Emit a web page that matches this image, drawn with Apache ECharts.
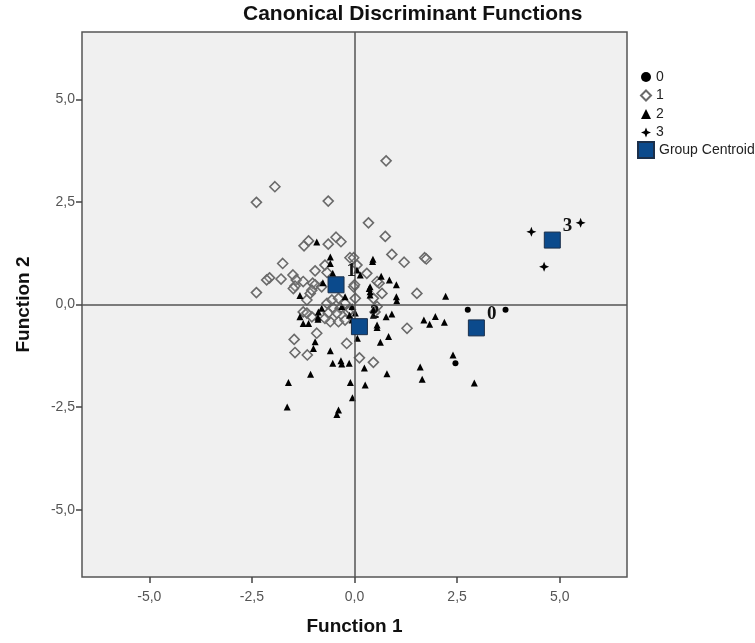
<!DOCTYPE html>
<html>
<head>
<meta charset="utf-8">
<title>Canonical Discriminant Functions</title>
<script src="https://cdn.jsdelivr.net/npm/echarts@6/dist/echarts.min.js"></script>
<style>
  html, body { margin: 0; padding: 0; background: #fff; }
  #main { width: 755px; height: 643px; }
</style>
</head>
<body>
<div id="main"></div>
<script>
// discriminant scores per group, [function 1, function 2]
var group0 = [[2.76, -0.13], [3.68, -0.13], [2.46, -1.43]]

var group1 = [
  [-2.39, 2.49], [-1.94, 2.87], [-0.64, 2.52], [0.34, 1.99], [0.77, 3.50], [0.75, 1.66],
  [0.91, 1.22], [1.21, 1.03], [1.71, 1.14], [1.75, 1.11], [1.52, 0.27], [0.60, 0.52],
  [0.67, 0.27], [0.46, 0.15], [0.30, 0.76], [0.06, 0.96],
  [-1.23, 1.43], [-1.12, 1.55], [-0.64, 1.47], [-0.45, 1.64], [-0.33, 1.53], [-0.11, 1.14],
  [-0.02, 1.14], [-1.75, 1.00], [-0.96, 0.82], [-0.72, 0.96], [-0.67, 0.78], [-2.07, 0.65],
  [-2.14, 0.60], [-1.79, 0.62], [-1.50, 0.72], [-1.42, 0.60], [-1.45, 0.45], [-1.25, 0.56],
  [-1.49, 0.39], [-2.39, 0.29], [-1.08, 0.27], [-1.16, 0.11], [-1.02, 0.52], [-0.96, 0.48],
  [-1.04, 0.35], [-0.80, 0.43], [-0.02, 0.43], [0.00, 0.48], [0.02, 0.15], [0.55, 0.56],
  [-0.67, 0.03], [-0.55, 0.11], [-0.39, 0.15], [-0.23, 0.03], [-0.51, -0.09], [-0.35, -0.09],
  [-0.64, -0.21], [-0.43, -0.21], [-0.15, -0.18], [-0.59, -0.42], [-0.39, -0.42], [-0.23, -0.38],
  [0.55, -0.05], [0.50, -0.18], [-1.04, -0.30], [-0.72, -0.34], [-1.25, -0.18], [-1.16, -0.21],
  [-0.10, -0.13], [-1.47, -0.85], [-1.45, -1.17], [-1.15, -1.23], [-0.92, -0.70], [-0.19, -0.95],
  [0.12, -1.30], [0.46, -1.41], [1.28, -0.58]
]

var group2 = [
  [-0.92, 1.52], [-0.59, 1.16], [-0.59, 1.00], [-0.53, 0.76], [-0.77, 0.53], [-1.33, 0.22],
  [-0.80, -0.09], [0.45, 1.10], [0.44, 1.05], [0.65, 0.69], [0.85, 0.60], [1.02, 0.48],
  [0.36, 0.39], [1.02, 0.19], [1.03, 0.09], [2.22, 0.20], [0.38, 0.23], [0.14, 0.72],
  [0.06, 0.84], [0.46, -0.13], [0.46, -0.26], [0.77, -0.30], [0.91, -0.23], [0.55, -0.56],
  [0.63, -0.92], [0.83, -0.78], [1.69, -0.38], [1.83, -0.48], [1.97, -0.29], [2.19, -0.43],
  [2.40, -1.23], [1.60, -1.52], [0.79, -1.69], [1.65, -1.82], [2.92, -1.91], [0.26, -1.96],
  [0.24, -1.55], [-1.33, -0.30], [-1.25, -0.46], [-1.12, -0.46], [-0.89, -0.31], [-0.96, -0.91],
  [-1.00, -1.07], [-0.59, -1.13], [-0.53, -1.43], [-0.33, -1.37], [-0.31, -1.45], [-0.13, -1.43],
  [0.07, -0.82], [-1.07, -1.70], [-1.61, -1.90], [-1.64, -2.50], [-0.10, -1.90], [-0.05, -2.27],
  [-0.39, -2.57], [-0.43, -2.68], [-0.06, -0.38], [-0.12, -0.26], [-0.88, -0.18], [-0.31, -0.05],
  [-0.06, -0.05], [0.02, -0.21], [0.38, 0.31], [-0.89, -0.36], [0.55, -0.50], [-0.23, 0.19],
  [0.38, 0.43]
]

var group3 = [[4.31, 1.77], [5.51, 1.99], [4.62, 0.92]]

var centroidNames = ['0', '1', '2', '3']
var centroids = [[2.97, -0.57], [-0.45, 0.48], [0.12, -0.54], [4.82, 1.57]]

var tickValues = [-5, -2.5, 0, 2.5, 5]

var font = 'Liberation Sans, Arial, sans-serif'
var starPath = 'path://M0,-5 L1.4,-1.4 L5,0 L1.4,1.4 L0,5 L-1.4,1.4 L-5,0 L-1.4,-1.4 Z'

function fmt(v) {
  return v.toFixed(1).replace('.', ',')
}

var myChart = echarts.init(document.getElementById('main'))

myChart.setOption({
  animation: false,
  textStyle: { fontFamily: font },
  title: {
    text: 'Canonical Discriminant Functions',
    left: 243,
    top: 4,
    padding: 0,
    textStyle: { fontSize: 21, fontWeight: 'bold', color: '#111', fontFamily: font }
  },
  legend: [
    {
      orient: 'vertical',
      left: 640,
      top: 70,
      padding: 0,
      itemWidth: 10,
      itemHeight: 10,
      itemGap: 4.5,
      itemTextGap: 5,
      textStyle: { fontSize: 14, color: '#222' },
      data: ['0', '1', '2', '3']
    },
    {
      orient: 'vertical',
      left: 637,
      top: 141,
      padding: 0,
      itemWidth: 16,
      itemHeight: 16,
      itemTextGap: 3,
      textStyle: { fontSize: 14, color: '#222' },
      data: ['Group Centroid']
    }
  ],
  grid: {
    left: 82,
    top: 32,
    width: 545,
    height: 545,
    outerBoundsMode: 'none',
    show: true,
    backgroundColor: '#f0f0f0',
    borderColor: '#555',
    borderWidth: 1.5
  },
  xAxis: {
    type: 'value',
    min: -6.64,
    max: 6.64,
    name: 'Function 1',
    nameLocation: 'middle',
    nameGap: 40,
    nameTextStyle: { fontSize: 19, fontWeight: 'bold', color: '#111' },
    axisLine: { show: false, onZero: false },
    axisTick: { show: true, length: 6, customValues: tickValues, lineStyle: { color: '#444', width: 1.5 } },
    axisLabel: { customValues: tickValues, formatter: fmt, fontSize: 14, color: '#555', margin: 13 },
    splitLine: { show: false }
  },
  yAxis: {
    type: 'value',
    min: -6.64,
    max: 6.64,
    name: 'Function 2',
    nameLocation: 'middle',
    nameGap: 49,
    nameTextStyle: { fontSize: 19, fontWeight: 'bold', color: '#111' },
    axisLine: { show: false, onZero: false },
    axisTick: { show: true, length: 6, customValues: tickValues, lineStyle: { color: '#444', width: 1.5 } },
    axisLabel: { customValues: tickValues, formatter: fmt, fontSize: 14, color: '#555', margin: 7 },
    splitLine: { show: false }
  },
  series: [
    {
      // reference lines through the origin
      type: 'scatter',
      data: [],
      z: 1,
      silent: true,
      markLine: {
        silent: true,
        symbol: 'none',
        label: { show: false },
        lineStyle: { color: '#555', width: 1.5, type: 'solid' },
        data: [{ xAxis: 0 }, { yAxis: 0 }]
      }
    },
    {
      name: '0',
      type: 'scatter',
      symbol: 'circle',
      symbolSize: 6,
      itemStyle: { color: '#000', opacity: 1 },
      data: group0
    },
    {
      name: '1',
      type: 'scatter',
      symbol: 'diamond',
      symbolSize: 10,
      itemStyle: { color: 'rgba(255,255,255,0.15)', borderColor: '#6a6a6a', borderWidth: 1.6, opacity: 1 },
      data: group1
    },
    {
      name: '2',
      type: 'scatter',
      symbol: 'triangle',
      symbolSize: 7,
      itemStyle: { color: '#000', opacity: 1 },
      data: group2
    },
    {
      name: '3',
      type: 'scatter',
      symbol: starPath,
      symbolSize: 10,
      itemStyle: { color: '#000', opacity: 1 },
      data: group3
    },
    {
      name: 'Group Centroid',
      type: 'scatter',
      symbol: 'rect',
      symbolSize: 16,
      z: 5,
      itemStyle: { color: '#0b4a8c', borderColor: '#1b2f4a', borderWidth: 1, opacity: 1 },
      label: {
        show: true,
        position: 'right',
        distance: 2,
        offset: [0, -14],
        formatter: function (p) { return centroidNames[p.dataIndex] },
        fontFamily: 'Liberation Serif, Times New Roman, serif',
        fontWeight: 'bold',
        fontSize: 19,
        color: '#111'
      },
      data: centroids
    }
  ]
})
</script>
</body>
</html>
